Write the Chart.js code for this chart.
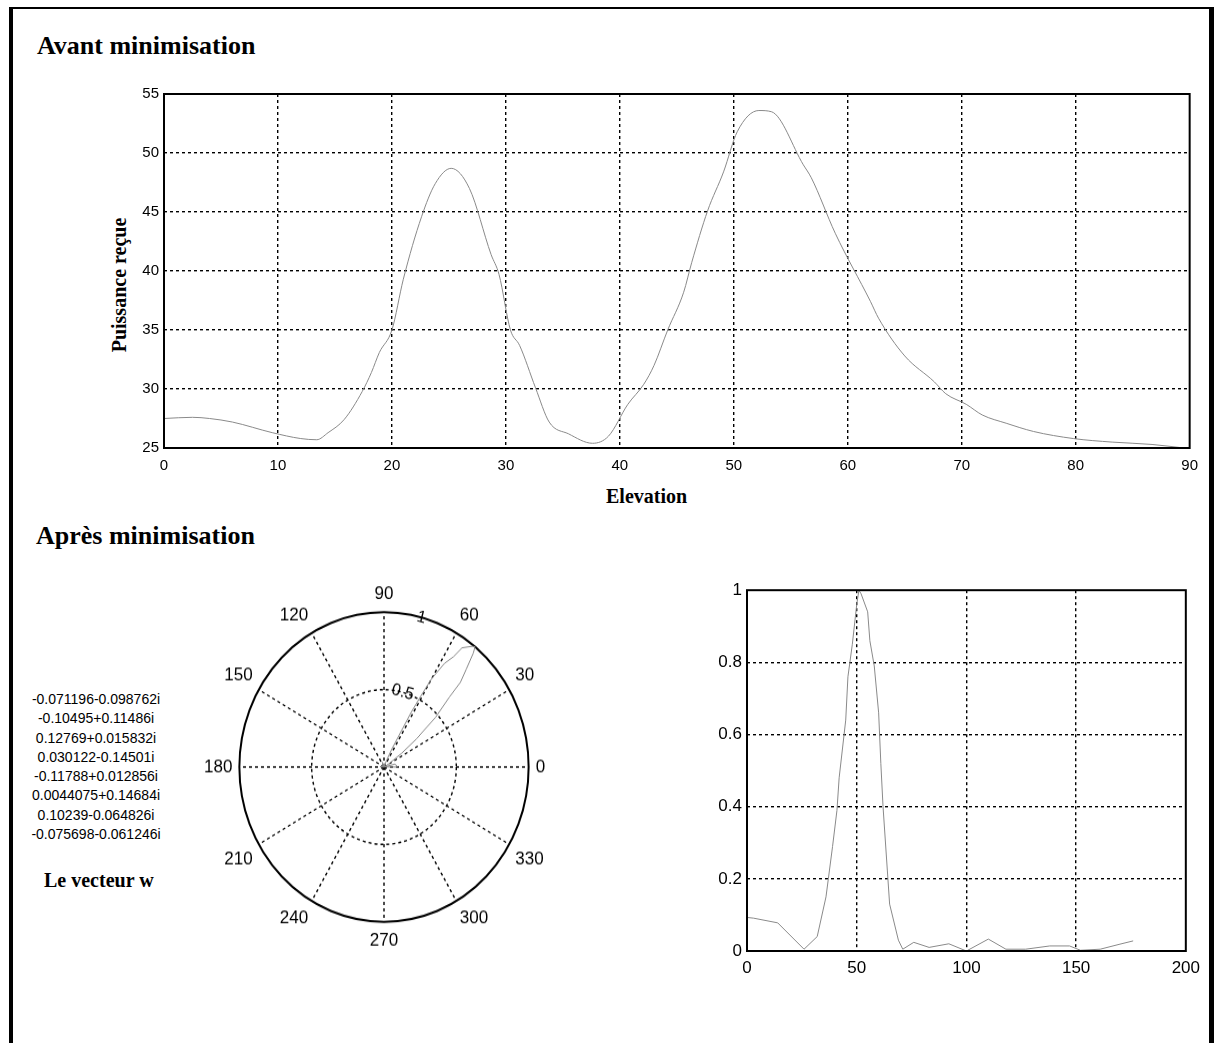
<!DOCTYPE html>
<html>
<head>
<meta charset="utf-8">
<script src="https://cdn.jsdelivr.net/npm/chart.js@4.4.1/dist/chart.umd.min.js"></script>
<style>
  html, body { margin: 0; padding: 0; background: #fff; }
  body { width: 1216px; height: 1043px; position: relative; overflow: hidden; }
  .frame { position: absolute; left: 9px; top: 7px; width: 1196px; height: 1100px;
           border-left: 4px solid #000; border-top: 2px solid #000; border-right: 5px solid #000; }
  .titre { position: absolute; font-family: "Liberation Serif", "Times New Roman", serif;
           font-weight: bold; color: #000; white-space: nowrap; line-height: 1; }
  .vecteur { position: absolute; left: 6px; top: 690px; width: 180px; text-align: center;
             font-family: "Liberation Sans", Arial, sans-serif; font-size: 14px; line-height: 19.3px; color: #000; }
  canvas { position: absolute; }
  #polarWrap { position: absolute; left: 195px; top: 587px; width: 360px; height: 360px;
               transform: scaleY(1.07); transform-origin: 50% 50%; }
</style>
</head>
<body>
<div class="frame"></div>

<div class="titre" style="left:37px; top:33px; font-size:26px;">Avant minimisation</div>
<div class="titre" style="left:36px; top:523px; font-size:26px;">Après minimisation</div>
<div class="titre" style="left:606px; top:486px; font-size:20px;">Elevation</div>
<div class="titre" style="left:119px; top:285px; font-size:20px; transform: translate(-50%, -50%) rotate(-90deg);">Puissance reçue</div>
<div class="titre" style="left:44px; top:870px; font-size:20px;">Le vecteur w</div>
<div class="vecteur" id="vecteur"></div>

<canvas id="avant" width="1087" height="392" style="left:120px; top:80px;"></canvas>
<div id="polarWrap"><canvas id="polaire" width="360" height="360" style="left:0; top:0;"></canvas></div>
<canvas id="apres" width="517" height="400" style="left:690px; top:575px;"></canvas>

<script>
// Avant minimisation : puissance reçue selon l'élévation
const elevation = [0, 2.5, 4, 6, 9.5, 12, 13.4, 14.4, 15.8, 17.4, 18.2, 18.9, 20, 21, 22.6, 23.8, 25.2,
  26.8, 28.7, 29.4, 30.4, 31.2, 32.6, 33.8, 35.5, 37.6, 39, 40.7, 42.1, 43, 44.2, 45.6, 46.3, 47.7,
  49.1, 50.3, 52.2, 53.3, 56.1, 56.8, 58.9, 62, 62.7, 65, 67.6, 68.6, 70.4, 71.8, 73.9, 76.3, 79.8,
  83.2, 86.7, 89.5];
const puissance = [27.5, 27.6, 27.5, 27.2, 26.3, 25.8, 25.7, 26.3, 27.4, 29.8, 31.4, 33.1, 35, 39.3,
  44.6, 47.4, 48.7, 47, 41.4, 39.7, 35, 33.7, 30.1, 27.2, 26.2, 25.4, 26, 28.7, 30.4, 32, 35, 38.2,
  40.7, 45.1, 48.4, 51.8, 53.6, 53.5, 49, 47.9, 43.2, 37.4, 36, 32.8, 30.6, 29.6, 28.7, 27.8, 27.1,
  26.4, 25.8, 25.5, 25.3, 25];
const elevTicks = { min: 0, max: 90, step: 10 };
const puisTicks = { min: 25, max: 55, step: 5 };

// Après minimisation : diagramme normalisé
const angleDeg = [0, 3, 14, 26, 32, 36, 39, 41, 42, 45, 46, 48, 50, 51, 52, 55, 56, 58, 60, 61, 62,
  65, 69, 71, 76, 83, 92, 100, 110, 118, 127, 138, 147, 152, 161, 170, 176];
const gain = [0.093, 0.091, 0.078, 0.005, 0.04, 0.15, 0.29, 0.39, 0.48, 0.64, 0.76, 0.85, 0.96,
  1.0, 0.99, 0.94, 0.86, 0.79, 0.66, 0.52, 0.4, 0.13, 0.03, 0.005, 0.024, 0.01, 0.02, 0.0, 0.033,
  0.005, 0.005, 0.014, 0.014, 0.002, 0.005, 0.019, 0.028];
const angleTicks = { min: 0, max: 200, step: 50 };
const gainTicks = { min: 0, max: 1, step: 0.2 };

// polaire
const polarLabels = [0, 30, 60, 90, 120, 150, 180, 210, 240, 270, 300, 330];
const polarRings = [0.5, 1];

// le vecteur w
const vecteurW = ['-0.071196-0.098762i', '-0.10495+0.11486i', '0.12769+0.015832i', '0.030122-0.14501i',
  '-0.11788+0.012856i', '0.0044075+0.14684i', '0.10239-0.064826i', '-0.075698-0.061246i'];

document.getElementById('vecteur').innerHTML = vecteurW.join('<br>');

const fontTick = "'Liberation Sans', Arial, sans-serif";
const courbe = '#8a8a8a';

// cadre complet autour de la zone de tracé (style MATLAB)
const boxPlugin = {
  id: 'box',
  afterDraw(chart) {
    const { ctx, chartArea: a } = chart;
    ctx.save();
    ctx.strokeStyle = '#000';
    ctx.lineWidth = 2;
    ctx.strokeRect(a.left, a.top, a.right - a.left, a.bottom - a.top);
    ctx.restore();
  }
};

function axe(t, size, pad, extra) {
  return Object.assign({
    type: 'linear', min: t.min, max: t.max,
    ticks: {
      stepSize: t.step, padding: pad, color: '#000', maxRotation: 0,
      font: { family: fontTick, size: size },
      callback: v => String(+v.toFixed(3))
    },
    grid: {
      drawTicks: false, lineWidth: 1.4,
      color: c => (c.tick && (c.tick.value === t.min || c.tick.value === t.max)) ? 'rgba(0,0,0,0)' : '#000'
    },
    border: { display: false, dash: [3, 3] }
  }, extra);
}

new Chart(document.getElementById('avant'), {
  type: 'line',
  data: {
    datasets: [{
      data: elevation.map((e, i) => ({ x: e, y: puissance[i] })),
      borderColor: courbe, borderWidth: 1, pointRadius: 0, fill: false,
      cubicInterpolationMode: 'monotone'
    }]
  },
  options: {
    responsive: false, animation: false,
    layout: { padding: { top: 9, right: 15, left: 0, bottom: 0 } },
    plugins: { legend: { display: false }, tooltip: { enabled: false } },
    scales: {
      x: axe(elevTicks, 15, 9, { afterFit: s => { s.height = 24; } }),
      y: axe(puisTicks, 15, 5, { afterFit: s => { s.width = 44; } })
    }
  },
  plugins: [boxPlugin]
});

new Chart(document.getElementById('apres'), {
  type: 'line',
  data: {
    datasets: [{
      data: angleDeg.map((a, i) => ({ x: a, y: gain[i] })),
      borderColor: courbe, borderWidth: 1, pointRadius: 0, fill: false
    }]
  },
  options: {
    responsive: false, animation: false,
    layout: { padding: { top: 14, right: 15, left: 0, bottom: 0 } },
    plugins: { legend: { display: false }, tooltip: { enabled: false } },
    scales: {
      x: axe(angleTicks, 17, 7, { afterFit: s => { s.height = 24; } }),
      y: axe(gainTicks, 17, 5, { afterFit: s => { s.width = 57; } })
    }
  },
  plugins: [boxPlugin]
});

// radar à 360 rayons : index i -> angle MATLAB (sens trigonométrique, 0 à droite)
const START = 15;
const degOf = i => (((90 - START - i) % 360) + 360) % 360;
const rayons = [];
const rValues = [];
for (let i = 0; i < 360; i++) {
  rayons.push(String(degOf(i)));
  rValues.push(null);
}
angleDeg.forEach((a, k) => {
  const i = (((90 - START - a) % 360) + 360) % 360;
  rValues[i] = gain[k];
});

new Chart(document.getElementById('polaire'), {
  type: 'radar',
  data: {
    labels: rayons,
    datasets: [{
      data: rValues, spanGaps: true,
      borderColor: courbe, borderWidth: 1, pointRadius: 0, fill: false
    }]
  },
  options: {
    responsive: false, animation: false,
    plugins: { legend: { display: false }, tooltip: { enabled: false } },
    scales: {
      r: {
        min: 0, max: 1, startAngle: START,
        ticks: {
          stepSize: 0.5, showLabelBackdrop: false, backdropPadding: 0, color: '#000',
          font: { family: fontTick, size: 16 },
          callback: v => polarRings.includes(v) ? String(v) : ''
        },
        grid: { circular: true, color: '#000', lineWidth: c => c.tick && c.tick.value === 1 ? 2 : 1.4 },
        border: { dash: c => (c.tick && c.tick.value === 1) ? [] : [3, 3] },
        angleLines: {
          color: '#000', borderDash: [3, 3],
          lineWidth: c => polarLabels.includes(degOf(c.index)) ? 1.4 : 0
        },
        pointLabels: {
          color: '#000', padding: -1,
          font: { family: fontTick, size: 17 },
          callback: (l, i) => polarLabels.includes(degOf(i)) ? l : ''
        }
      }
    }
  }
});
</script>
</body>
</html>
